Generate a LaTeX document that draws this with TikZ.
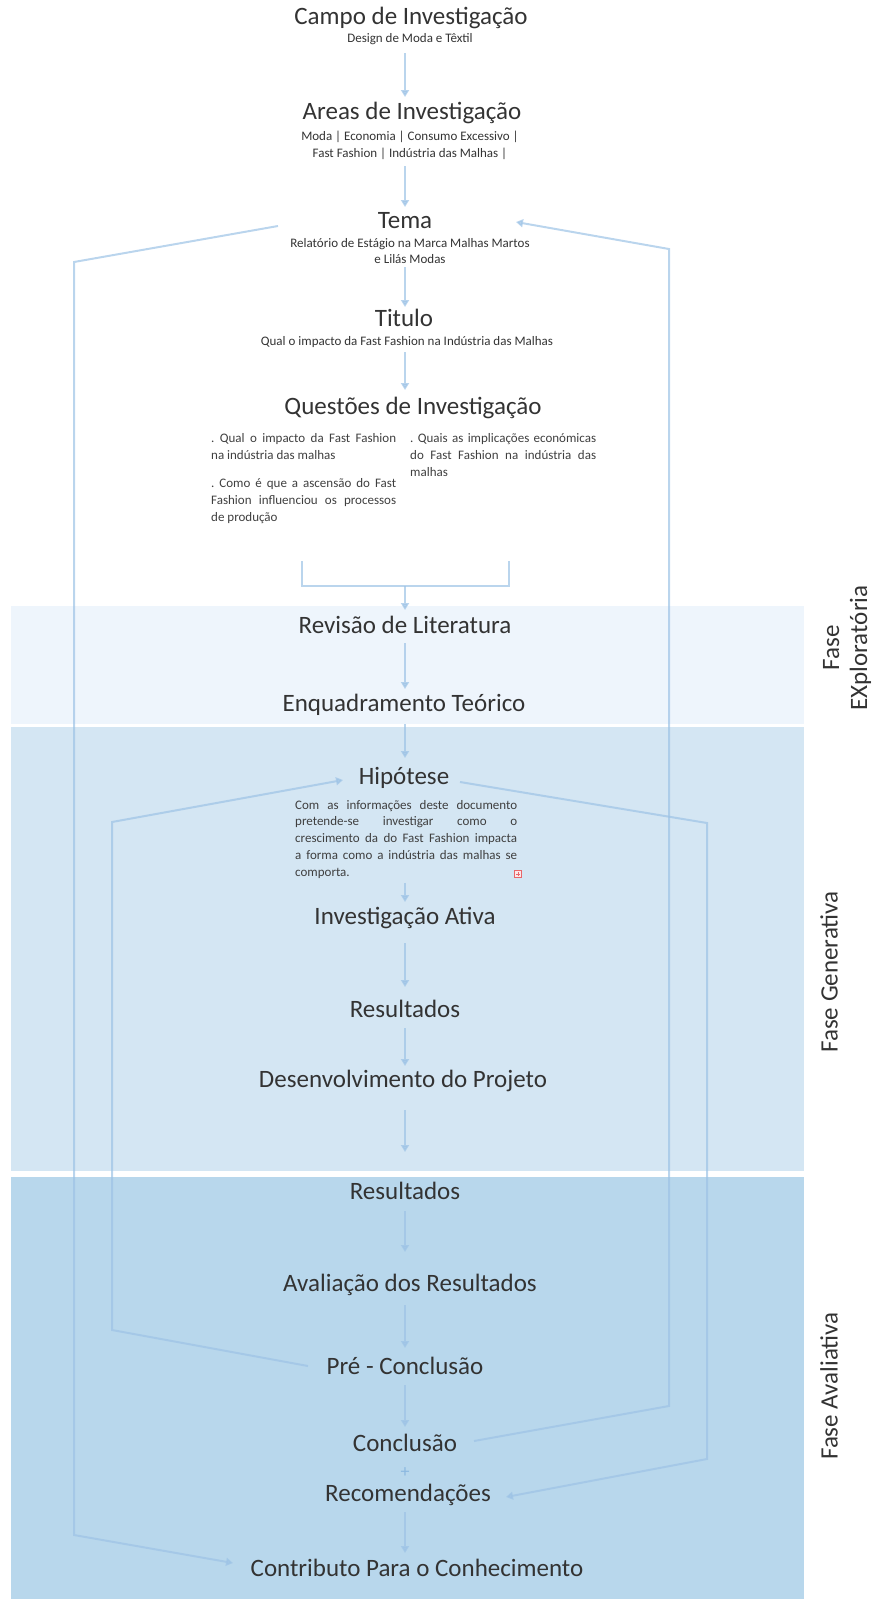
\documentclass[tikz,border=0pt]{standalone}
\usepackage{fontspec}
\setmainfont{Carlito}
\usetikzlibrary{arrows.meta}
\frenchspacing

\definecolor{bandA}{HTML}{EEF5FC}
\definecolor{bandB}{HTML}{D4E6F3}
\definecolor{bandC}{HTML}{B8D7EC}
\definecolor{flow}{HTML}{9DC3E6}
\definecolor{plusink}{HTML}{8CB8E0}
\definecolor{ink}{HTML}{333333}
\definecolor{bodyink}{HTML}{3F3F3F}
\definecolor{noteRed}{HTML}{E8666A}

\tikzset{
  heading/.style={font=\fontsize{25}{30}\selectfont, text=ink, inner sep=0pt,
    text height=17pt, text depth=5pt},
  subline/.style={font=\fontsize{13}{17}\selectfont, text=ink, inner sep=0pt, align=center},
  bodytext/.style={font=\fontsize{13}{17}\selectfont, text=bodyink, inner sep=0pt,
    align=justify, text width=#1, anchor=north west,
    execute at begin node={\tolerance=10000\hyphenpenalty=10000\exhyphenpenalty=10000}},
  flowline/.style={draw=flow, draw opacity=0.7, fill opacity=0.7, line width=2pt, line join=miter},
  tip/.style={-{Triangle[width=8pt,length=7pt,fill=flow]}},
  arr/.style={flowline, tip},
  phaselabel/.style={font=\fontsize{25}{28}\selectfont, text=ink, rotate=90, align=center, inner sep=0pt},
}

\begin{document}
\begin{tikzpicture}[x=1pt, y=-1pt]
  \useasboundingbox (0,0) rectangle (875,1599);

  % phase bands
  \fill[bandA] (11,606) rectangle (804,724);
  \fill[bandB] (11,727) rectangle (804,1171);
  \fill[bandC] (11,1177) rectangle (804,1599);

  % central axis of the flow
  \coordinate (spine) at (405,0);

  % headings and descriptions
  \node[heading] (campo) at (411,18) {Campo de Investigação};
  \node[subline] (campoS) at (410,39) {Design de Moda e Têxtil};
  \node[heading] (areas) at (412,113) {Areas de Investigação};
  \node[subline] (areasS) at (410,145.5) {Moda | Economia | Consumo Excessivo |\\Fast Fashion | Indústria das Malhas |};
  \node[heading] (tema) at (405,222) {Tema};
  \node[subline, font=\fontsize{13}{16}\selectfont] (temaS) at (410,251) {Relatório de Estágio na Marca Malhas Martos\\e Lilás Modas};
  \node[heading] (titulo) at (404,320) {Titulo};
  \node[subline] (tituloS) at (407,342) {Qual o impacto da Fast Fashion na Indústria das Malhas};
  \node[heading] (questoes) at (413,408) {Questões de Investigação};

  \node[bodytext=185pt] (qLeft) at (211,432) {\rule{0pt}{10pt}. Qual o impacto da Fast Fashion\linebreak na indústria das malhas\par\vspace{11pt}. Como é que a ascensão do Fast\linebreak Fashion influenciou os processos\linebreak de produção};
  \node[bodytext=186pt] (qRight) at (410,432) {\rule{0pt}{10pt}. Quais as implicações económicas\linebreak do Fast Fashion na indústria das\linebreak malhas};

  \node[heading] (revisao) at (405,627) {Revisão de Literatura};
  \node[heading] (enquad) at (404,705) {Enquadramento Teórico};
  \node[heading] (hipo) at (404,778) {Hipótese};
  \node[bodytext=222pt, font=\fontsize{13}{16.7}\selectfont] (hipoP) at (295,799) {\rule{0pt}{10pt}Com as informações deste documento\linebreak pretende-se investigar como o\linebreak crescimento da do Fast Fashion impacta\linebreak a forma como a indústria das malhas se\linebreak comporta.};
  \node[draw=noteRed, fill=noteRed!15, line width=0.6pt, minimum size=7pt, inner sep=0pt] (note) at (518,874) {};
  \draw[noteRed, line width=0.6pt] ([xshift=-2pt]note.center) -- ([xshift=2pt]note.center)
                                   ([yshift=-2pt]note.center) -- ([yshift=2pt]note.center);

  \node[heading] (ativa) at (405,918) {Investigação Ativa};
  \node[heading] (res1) at (405,1011) {Resultados};
  \node[heading] (desenv) at (403,1081) {Desenvolvimento do Projeto};
  \node[heading] (res2) at (405,1193) {Resultados};
  \node[heading] (aval) at (410,1285) {Avaliação dos Resultados};
  \node[heading] (pre) at (405,1368) {Pré - Conclusão};
  \node[heading] (concl) at (405,1445) {Conclusão};
  \node[text=plusink, inner sep=0pt, font=\fontsize{18}{18}\selectfont] (plus) at (405,1473) {+};
  \node[heading] (recom) at (408,1495) {Recomendações};
  \node[heading] (contrib) at (417,1570) {Contributo Para o Conhecimento};

  % phase labels
  \node[phaselabel] (phExp) at (847,648) {Fase\\EXploratória};
  \node[phaselabel] (phGen) at (829,972) {Fase Generativa};
  \node[phaselabel] (phAva) at (829,1386) {Fase Avaliativa};

  % main sequence
  \draw[arr, shorten <=14pt, shorten >=16pt] (campoS.center -| spine) -- (areas.center -| spine);
  \draw[arr, shorten <=20.5pt, shorten >=15pt] (areasS.center -| spine) -- (tema.center -| spine);
  \draw[arr, shorten <=16pt, shorten >=13pt] (temaS.center -| spine) -- (titulo.center -| spine);
  \draw[arr, shorten <=10pt, shorten >=18pt] (tituloS.center -| spine) -- (questoes.center -| spine);

  % bracket joining the research questions
  \coordinate (brL) at (302,561);
  \coordinate (brR) at (509,561);
  \coordinate (brM) at (405,586);
  \draw[flowline] (brL) -- (brL |- brM) -- (brR |- brM) -- (brR);
  \draw[arr, shorten >=17pt] (brM) -- (revisao.center -| spine);

  \draw[arr, shorten <=16pt, shorten >=16pt] (revisao.center -| spine) -- (enquad.center -| spine);
  \draw[arr, shorten <=19pt, shorten >=20pt] (enquad.center -| spine) -- (hipo.center -| spine);
  \draw[arr, shorten <=4.5pt, shorten >=16pt] (hipoP.south -| spine) -- (ativa.center -| spine);
  \draw[arr, shorten <=25pt, shorten >=24pt] (ativa.center -| spine) -- (res1.center -| spine);
  \draw[arr, shorten <=17pt, shorten >=15pt] (res1.center -| spine) -- (desenv.center -| spine);
  \draw[arr, shorten <=29pt, shorten >=41pt] (desenv.center -| spine) -- (res2.center -| spine);
  \draw[arr, shorten <=18pt, shorten >=33pt] (res2.center -| spine) -- (aval.center -| spine);
  \draw[arr, shorten <=20pt, shorten >=20pt] (aval.center -| spine) -- (pre.center -| spine);
  \draw[arr, shorten <=17pt, shorten >=18pt] (pre.center -| spine) -- (concl.center -| spine);
  \draw[arr, shorten <=17pt, shorten >=17pt] (recom.center -| spine) -- (contrib.center -| spine);

  % feedback loops
  \coordinate (oL1) at (74,262);
  \coordinate (oL2) at (74,1535);
  \coordinate (oR1) at (669,1406);
  \coordinate (oR2) at (669,249);
  \coordinate (iL1) at (112,1330);
  \coordinate (iL2) at (112,822);
  \coordinate (iR1) at (707,823);
  \coordinate (iR2) at (707,1459);

  \draw[arr] ([shift={(-127,4)}]tema.center) -- (oL1) -- (oL2) -- ([shift={(-184,-7)}]contrib.center);
  \draw[arr] ([shift={(69,-4)}]concl.center) -- (oR1) -- (oR2) -- ([shift={(111,0)}]tema.center);
  \draw[arr] ([shift={(-97,-2)}]pre.center) -- (iL1) -- (iL2) -- ([shift={(-61,2)}]hipo.center);
  \draw[arr] ([shift={(56,4)}]hipo.center) -- (iR1) -- (iR2) -- ([shift={(98,2)}]recom.center);
\end{tikzpicture}
\end{document}
